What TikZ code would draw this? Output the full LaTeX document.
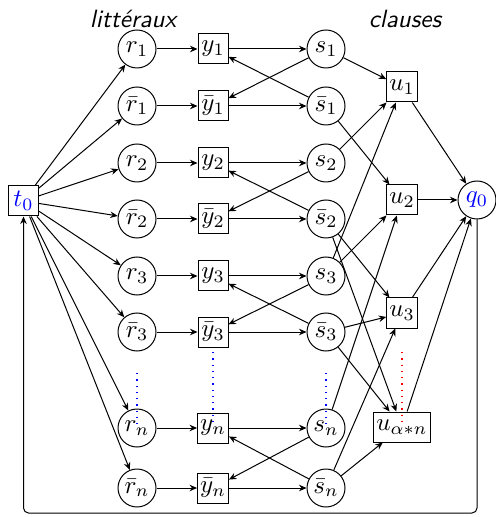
\documentclass[tikz,border=0pt]{standalone}
\usetikzlibrary{arrows.meta}
\begin{document}
\begin{tikzpicture}[x=0.4pt,y=-0.4pt,
  >={Stealth[length=3pt,width=2.6pt]},
  cnode/.style={circle,draw,minimum size=15.2pt,inner sep=0pt},
  bnode/.style={rectangle,draw,minimum width=12pt,minimum height=12pt,inner sep=1pt},
  arr/.style={->},
  loopedge/.style={->,rounded corners=2pt},
  title/.style={font=\sffamily\itshape},
  bdots/.style={dotted,blue,line width=0.5pt},
  rdots/.style={dotted,red,line width=0.5pt}]
\useasboundingbox (0,0) rectangle (495,517);
% titles
\node[title] (tl) at (133,19) {littéraux};
\node[title] (tc) at (405,19) {clauses};
% source
\node[bnode] (t0) at (23.5,201) {\color{blue}$t_0$};
% literal column
\node[cnode] (r1)  at (137,49)  {$r_1$};
\node[cnode] (r1b) at (137,106) {$\bar{r}_1$};
\node[cnode] (r2)  at (137,163) {$r_2$};
\node[cnode] (r2b) at (137,219) {$\bar{r}_2$};
\node[cnode] (r3)  at (137,276) {$r_3$};
\node[cnode] (r3b) at (137,332) {$\bar{r}_3$};
\node[cnode] (rn)  at (137,428) {$r_n$};
\node[cnode] (rnb) at (137,488) {$\bar{r}_n$};
\node[bnode] (y1)  at (213,49)  {$y_1$};
\node[bnode] (y1b) at (213,106) {$\bar{y}_1$};
\node[bnode] (y2)  at (213,163) {$y_2$};
\node[bnode] (y2b) at (213,219) {$\bar{y}_2$};
\node[bnode] (y3)  at (213,276) {$y_3$};
\node[bnode] (y3b) at (213,332) {$\bar{y}_3$};
\node[bnode] (yn)  at (213,428) {$y_n$};
\node[bnode] (ynb) at (213,488) {$\bar{y}_n$};
\node[cnode] (s1)  at (326,49)  {$s_1$};
\node[cnode] (s1b) at (326,106) {$\bar{s}_1$};
\node[cnode] (s2)  at (326,163) {$s_2$};
\node[cnode] (s2b) at (326,219) {$\bar{s}_2$};
\node[cnode] (s3)  at (326,276) {$s_3$};
\node[cnode] (s3b) at (326,332) {$\bar{s}_3$};
\node[cnode] (sn)  at (326,428) {$s_n$};
\node[cnode] (snb) at (326,488) {$\bar{s}_n$};
% clauses
\node[bnode] (u1)  at (402,87)  {$u_1$};
\node[bnode] (u2)  at (402,200) {$u_2$};
\node[bnode] (u3)  at (402,313) {$u_3$};
\node[bnode] (uan) at (402,427) {$u_{\alpha*n}$};
\node[cnode] (q0)  at (477,200) {\color{blue}$q_0$};
% dotted guides
\coordinate (dr) at (137,373);
\coordinate (dy) at (213,352);
\coordinate (ds) at (326,373);
\coordinate (du) at (402,352);
\draw[bdots] (dr) -- (rn.center);
\draw[bdots] (dy) -- ([yshift=1.5pt]yn.center);
\draw[bdots] (ds) -- (sn.center);
\draw[rdots] (du) -- (uan.center);
% edges from t0
\foreach \n in {r1,r1b,r2,r2b,r3,r3b,rn,rnb} \draw[arr] (t0) -- (\n);
% r -> y -> s
\foreach \i in {1,1b,2,2b,3,3b,n,nb} {
  \draw[arr] (r\i) -- (y\i);
  \draw[arr] (y\i) -- (s\i);
}
% s -> opposite y
\foreach \i in {1,2,3,n} {
  \draw[arr] (s\i) -- (y\i b);
  \draw[arr] (s\i b) -- (y\i);
}
% s -> u
\draw[arr] (s1) -- (u1);
\draw[arr] (s2) -- (u1);
\draw[arr] (s3) -- (u1);
\draw[arr] (s1b) -- (u2);
\draw[arr] (s3) -- (u2);
\draw[arr] (sn) -- (u2);
\draw[arr] (s2b) -- (u3);
\draw[arr] (s3b) -- (u3);
\draw[arr] (snb) -- (u3);
\draw[arr] (s2b) -- (uan);
\draw[arr] (s3b) -- (uan);
\draw[arr] (snb) -- (uan);
% u -> q0
\draw[arr] (u1) -- (q0);
\draw[arr] (u2) -- (q0);
\draw[arr] (u3) -- (q0);
\draw[arr] (uan) -- (q0);
% loop back
\coordinate (lb) at (23.5,513);
\coordinate (rb) at (477,513);
\draw[loopedge] (q0) -- (rb) -- (lb) -- (t0);
\end{tikzpicture}
\end{document}
